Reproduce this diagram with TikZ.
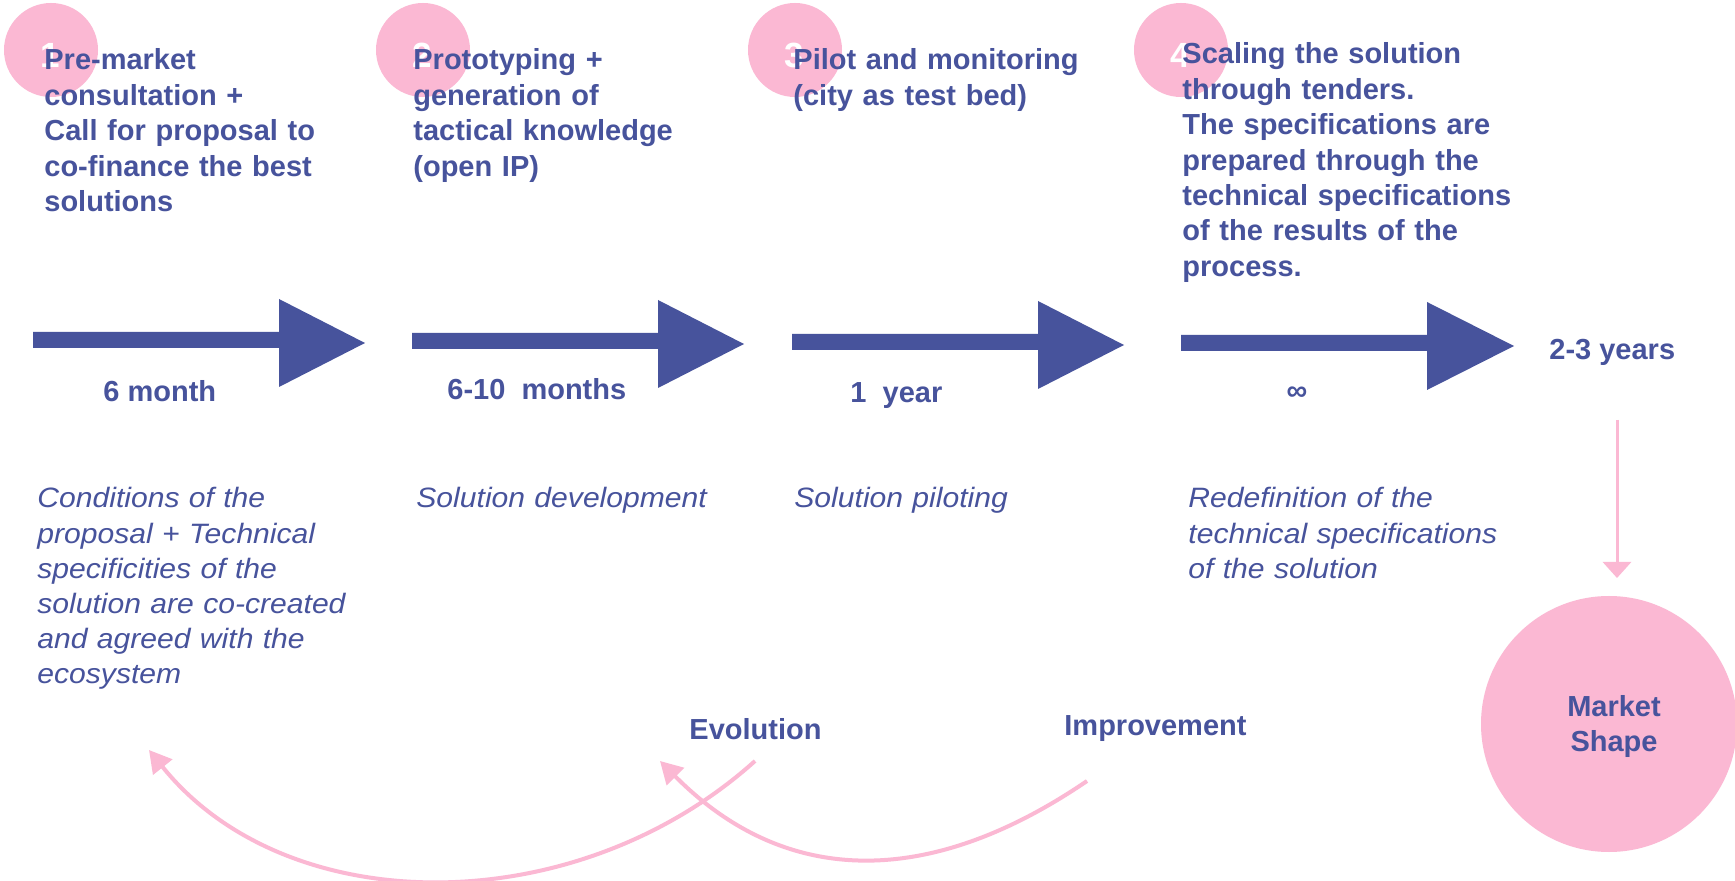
\documentclass[tikz,border=0pt]{standalone}
\usepackage{fontspec}
\setmainfont{Liberation Sans}[ItalicFeatures={FakeStretch=1.075}]
\usetikzlibrary{arrows.meta}
\definecolor{navy}{HTML}{47539C}
\definecolor{rose}{HTML}{FBB8D3}
\tikzset{
 numdot/.style={circle, fill=rose, inner sep=0pt, minimum size=47pt},
 numtxt/.style={text=white, inner sep=0pt, font=\bfseries\fontsize{17.5}{20}\selectfont},
 headtxt/.style={anchor=base west, inner sep=0pt, text width=200pt, align=left, text=navy, font=\bfseries\fontsize{14.5}{17.7}\selectfont},
 desctxt/.style={anchor=base west, inner sep=0pt, text width=200pt, align=left, text=navy, font=\itshape\fontsize{14}{17.6}\selectfont},
 durtxt/.style={anchor=base west, inner sep=0pt, text=navy, font=\bfseries\fontsize{14.5}{17.5}\selectfont},
 bigarrow/.style={fill=navy},
 loopline/.style={draw=rose, line width=2pt, -{Triangle[length=11pt,width=12pt]}},
 downline/.style={draw=rose, line width=1.5pt, -{Triangle[length=8pt,width=14pt]}},
 marketdot/.style={circle, fill=rose, inner sep=0pt, minimum size=128pt},
 marketlbl/.style={inner sep=0pt, align=center, text=navy, font=\bfseries\fontsize{14.5}{17.5}\selectfont}
}
\begin{document}
\begin{tikzpicture}[x=0.5pt,y=-0.5pt]
\useasboundingbox[fill=white] (0,0) rectangle (1735,881);
% number circles
\node[numdot] (c1) at (51,50) {};
\node[numdot] (c2) at (423,50) {};
\node[numdot] (c3) at (795,50) {};
\node[numdot] (c4) at (1181,50) {};
\node[numtxt] (n1) at (50,55) {1};
\node[numtxt] (n2) at (422,55) {2};
\node[numtxt] (n3) at (794,55) {3};
\node[numtxt] (n4) at (1180,55) {4};
% headings
\node[headtxt] (h1) at (44,70) {Pre-market\\consultation +\\Call for proposal to\\co-finance the best\\solutions};
\node[headtxt] (h2) at (413,70) {Prototyping +\\generation of\\tactical knowledge\\(open IP)};
\node[headtxt] (h3) at (793,70) {Pilot and monitoring\\(city as test bed)};
\node[headtxt] (h4) at (1182,64) {Scaling the solution\\through tenders.\\The specifications are\\prepared through the\\technical specifications\\of the results of the\\process.};
% big arrows
\fill[bigarrow] (33,332) -- (279,332) -- (279,299) -- (365,343) -- (279,387) -- (279,348) -- (33,348) -- cycle;
\fill[bigarrow] (412,333) -- (658,333) -- (658,300) -- (744,344) -- (658,388) -- (658,349) -- (412,349) -- cycle;
\fill[bigarrow] (792,334) -- (1038,334) -- (1038,301) -- (1124,345) -- (1038,389) -- (1038,350) -- (792,350) -- cycle;
\fill[bigarrow] (1181,335) -- (1427,335) -- (1427,302) -- (1514,346) -- (1427,390) -- (1427,351) -- (1181,351) -- cycle;
% durations
\node[durtxt] (d1) at (103,402) {6 month};
\node[durtxt] (d2) at (447,400) {6-10\ \ months};
\node[durtxt] (d3) at (850,403) {1\ \ year};
\node[durtxt, anchor=center] (d4) at (1297,394) {∞};
\node[durtxt] (d5) at (1549,360) {2-3 years};
% descriptions
\node[desctxt] (t1) at (37,508) {Conditions of the\\proposal + Technical\\specificities of the\\solution are co-created\\and agreed with the\\ecosystem};
\node[desctxt] (t2) at (416,508) {Solution development};
\node[desctxt] (t3) at (794,508) {Solution piloting};
\node[desctxt] (t4) at (1188,508) {Redefinition of the\\technical specifications\\of the solution};
% market shape
\node[marketdot] (mkt) at (1609,724) {};
\node[marketlbl] (mktlbl) at (1614,727) {Market\\Shape};
\coordinate (vtop) at (1617,420);
\coordinate (vbot) at (1617,578);
\draw[downline] (vtop) -- (vbot);
% loops
\node[durtxt] (evo) at (689,740) {Evolution};
\node[durtxt] (imp) at (1064,735) {Improvement};
\coordinate (evoS) at (755,761);
\coordinate (evoE) at (149,750);
\coordinate (impS) at (1087,781);
\coordinate (impE) at (660,761);
\draw[loopline] (evoS) .. controls (576,922) and (287,922) .. (evoE);
\draw[loopline] (impS) .. controls (930,888) and (786,888) .. (impE);
\end{tikzpicture}
\end{document}
